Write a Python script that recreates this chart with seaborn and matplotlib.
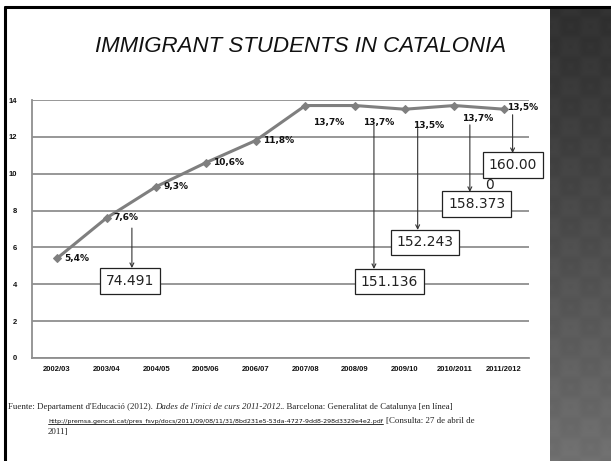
import numpy as np
import pandas as pd
import matplotlib
matplotlib.use("Agg")
import matplotlib.pyplot as plt
from matplotlib import font_manager
from matplotlib.lines import Line2D
import seaborn as sns

# School years and share of immigrant students (%)
years = ["2002/03", "2003/04", "2004/05", "2005/06", "2006/07",
         "2007/08", "2008/09", "2009/10", "2010/2011", "2011/2012"]
share = [5.4, 7.6, 9.3, 10.6, 11.8, 13.7, 13.7, 13.5, 13.7, 13.5]
share_labels = ["5,4%", "7,6%", "9,3%", "10,6%", "11,8%",
                "13,7%", "13,7%", "13,5%", "13,7%", "13,5%"]

# Absolute number of immigrant students, attached to selected years
count_years = ["2003/04", "2008/09", "2009/10", "2010/2011", "2011/2012"]
count_labels = ["74.491", "151.136", "152.243", "158.373", "160.00"]

y_ticks = [0, 2, 4, 6, 8, 10, 12, 14]

W, H = 611, 461
sns.set_style("white")


def has_font(name):
    try:
        font_manager.findfont(font_manager.FontProperties(family=name),
                              fallback_to_default=False)
        return True
    except Exception:
        return False


narrow = "Liberation Sans Narrow" if has_font("Liberation Sans Narrow") else "Liberation Sans"

fig = plt.figure(figsize=(W / 100, H / 100), dpi=100)
fig.patch.set_facecolor("white")


def px_rect(x0, y0, x1, y1):
    """Figure-fraction rectangle from pixel box (top-left origin)."""
    return [x0 / W, 1 - y1 / H, (x1 - x0) / W, (y1 - y0) / H]


# Dark textured side panel
side = fig.add_axes(px_rect(550, 7, W, H))
gy, gx = np.mgrid[0:H - 7, 0:W - 550].astype(float)
shade = 0.19 + 0.25 * (gy / gy.max()) ** 1.2
diam = (np.abs(((gx + gy) % 40) - 20) + np.abs(((gx - gy) % 40) - 20))
shade += 0.01 * np.sin(diam / 6.0)
side.imshow(np.dstack([shade] * 3).clip(0, 1), aspect="auto",
            interpolation="bilinear")
side.set_axis_off()

# Slide frame lines
fig.add_artist(Line2D([5 / W, 1], [1 - 7 / H, 1 - 7 / H], color="black", lw=2.2))
fig.add_artist(Line2D([5 / W, 5 / W], [0, 1 - 7 / H], color="black", lw=2.2))

# Title
fig.text(301 / W, 1 - 47 / H, "IMMIGRANT STUDENTS IN CATALONIA",
         ha="center", va="center", fontsize=16, style="italic",
         family=narrow, color="#111111")

# Main chart
ax = fig.add_axes(px_rect(32, 100, 529, 358))
df = pd.DataFrame({"pos": np.arange(len(years)), "share": share})
sns.lineplot(data=df, x="pos", y="share", ax=ax, color="#7f7f7f",
             linewidth=2.2, marker="D", markersize=4.2,
             markeredgecolor="#7f7f7f", zorder=3)

ax.set_xlim(-0.5, len(years) - 0.5)
ax.set_ylim(0, 14)
ax.set_yticks(y_ticks)
ax.set_yticklabels([str(v) for v in y_ticks])
ax.set_xticks(np.arange(len(years)))
ax.set_xticklabels(years)
ax.set_xlabel("")
ax.set_ylabel("")
ax.yaxis.grid(True, color="#8f8f8f", lw=1.3)
ax.set_axisbelow(True)
for s in ["top", "right"]:
    ax.spines[s].set_visible(False)
for s in ["left", "bottom"]:
    ax.spines[s].set_color("#8f8f8f")
    ax.spines[s].set_linewidth(1.3)
ax.tick_params(axis="both", length=0, labelsize=5.5, colors="#111111")
ax.tick_params(axis="y", pad=11)
ax.tick_params(axis="x", pad=6)
for lab in ax.get_xticklabels() + ax.get_yticklabels():
    lab.set_fontweight("bold")
    lab.set_family(narrow)

# Percentage labels
lab_kw = dict(fontsize=6.5, fontweight="bold", color="#111111",
              textcoords="offset points", va="center")
for i, (v, t) in enumerate(zip(share, share_labels)):
    if i < 5:
        ax.annotate(t, (i, v), xytext=(5, 0), ha="left", **lab_kw)
    elif i < 9:
        dy = -9.5 if i == 8 else -12
        ax.annotate(t, (i, v), xytext=(17, dy), ha="center", **lab_kw)
    else:
        ax.annotate(t, (i, v), xytext=(2, 1), ha="left", **lab_kw)

# Boxes with student counts, linked to the percentage labels by arrows
box_place = {  # (box centre x offset, box centre y, arrow x offset, arrow tip y)
    "2003/04": (0.48, 4.18, 0.51, 4.88),
    "2008/09": (0.69, 4.15, 0.38, 4.83),
    "2009/10": (0.41, 6.27, 0.26, 6.95),
    "2010/2011": (0.45, 8.36, 0.31, 9.01),
    "2011/2012": (0.17, 10.47, 0.17, 11.12),
}
arrow_kw = dict(arrowstyle="->", color="#333333", lw=0.8,
                shrinkA=0, shrinkB=0, mutation_scale=7)
for yr, txt in zip(count_years, count_labels):
    i = years.index(yr)
    bx, by, axo, tip = box_place[yr]
    v = share[i]
    if i == 1:
        start = v - 0.55
    elif i == 9:
        start = v - 0.3
    else:
        start = v - 1.05
    ax.annotate("", xy=(i + axo, tip), xytext=(i + axo, start),
                arrowprops=arrow_kw, annotation_clip=False)
    ax.text(i + bx, by, txt, ha="center", va="center", fontsize=10,
            color="#222222", clip_on=False, zorder=5,
            bbox=dict(boxstyle="square,pad=0.42", fc="white",
                      ec="#222222", lw=0.9))
# wrapped last digit of the final count
ax.text(9 - 0.29, 9.39, "0", ha="center", va="center", fontsize=10,
        color="#222222", clip_on=False, zorder=6)

# Source note, written as consecutive runs of text
fig.canvas.draw()
renderer = fig.canvas.get_renderer()


def write_run(x, y, parts):
    for text, props in parts:
        t = fig.text(x / W, 1 - y / H, text, va="center", ha="left", **props)
        x += t.get_window_extent(renderer).width
    return x


serif = dict(family="Liberation Serif", fontsize=6.4, color="#222222")
serif_it = dict(serif, style="italic")
write_run(8, 407, [
    ("Fuente: Departament d'Educació (2012).", serif),
    ("\u2009", serif),
    ("Dades de l'inici de curs 2011-2012.", serif_it),
    (". Barcelona: Generalitat de Catalunya [en línea]", serif),
])
url = ("http://premsa.gencat.cat/pres_fsvp/docs/2011/09/08/11/31/"
       "8bd231e5-53da-4727-9dd8-298d3329e4e2.pdf")
url_t = fig.text(48 / W, 1 - 421 / H, url, va="center", ha="left",
                 family="DejaVu Sans", fontsize=4.5, color="#111111")
ue = url_t.get_window_extent(renderer)
fig.add_artist(Line2D([ue.x0 / W, ue.x1 / W],
                      [(ue.y0 - 0.5) / H, (ue.y0 - 0.5) / H],
                      color="#111111", lw=0.6))
fig.text((ue.x1 + 3) / W, 1 - 421 / H, "[Consulta: 27 de abril de",
         va="center", ha="left", **serif)
fig.text(48 / W, 1 - 432 / H, "2011]", va="center", ha="left", **serif)

fig.savefig("out.png", dpi=100)
